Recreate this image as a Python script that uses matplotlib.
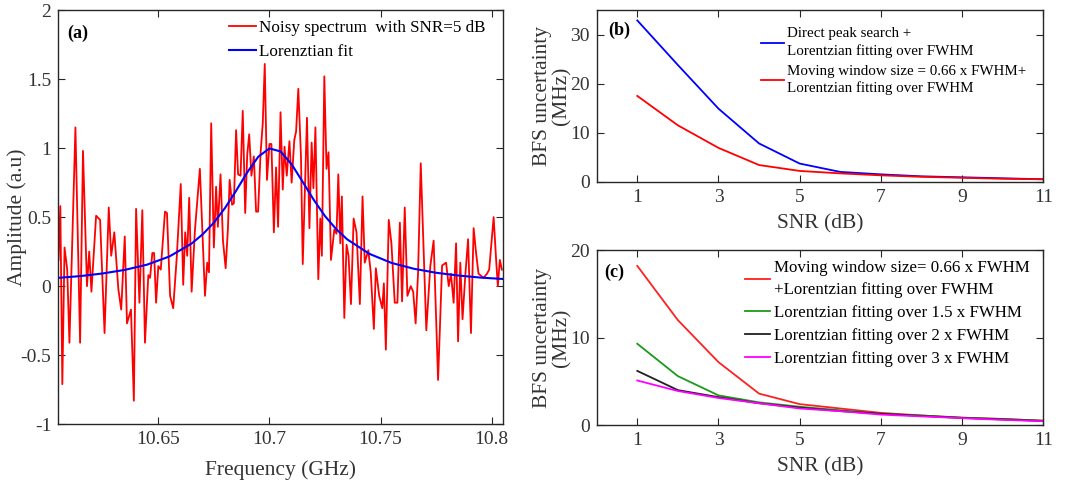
import matplotlib
matplotlib.use("Agg")
import matplotlib.pyplot as plt

plt.rcParams['font.family'] = ['Liberation Serif', 'DejaVu Serif']
plt.rcParams['axes.unicode_minus'] = False

# ---------------- data: panel (a) ----------------
noisy_freq = [10.6051, 10.6059, 10.6068, 10.6078, 10.6090, 10.6100, 10.6127, 10.6148, 10.6161, 10.6179,
              10.6189, 10.6199, 10.6220, 10.6238, 10.6258, 10.6277, 10.6288, 10.6302, 10.6320, 10.6333,
              10.6349, 10.6359, 10.6377, 10.6390, 10.6400, 10.6415, 10.6428, 10.6440, 10.6455, 10.6463,
              10.6473, 10.6481, 10.6490, 10.6500, 10.6511, 10.6530, 10.6539, 10.6553, 10.6567, 10.6583,
              10.6601, 10.6612, 10.6621, 10.6630, 10.6639, 10.6650, 10.6665, 10.6687, 10.6710, 10.6720,
              10.6728, 10.6738, 10.6750, 10.6760, 10.6768, 10.6780, 10.6791, 10.6803, 10.6813, 10.6821,
              10.6832, 10.6840, 10.6850, 10.6859, 10.6870, 10.6880, 10.6891, 10.6900, 10.6909, 10.6919,
              10.6930, 10.6940, 10.6949, 10.6960, 10.6970, 10.6979, 10.6989, 10.7000, 10.7009, 10.7020,
              10.7030, 10.7039, 10.7050, 10.7060, 10.7068, 10.7078, 10.7090, 10.7100, 10.7112, 10.7120,
              10.7130, 10.7142, 10.7150, 10.7169, 10.7180, 10.7190, 10.7198, 10.7207, 10.7220, 10.7229,
              10.7236, 10.7247, 10.7257, 10.7266, 10.7277, 10.7292, 10.7302, 10.7310, 10.7319, 10.7326,
              10.7337, 10.7347, 10.7356, 10.7367, 10.7379, 10.7392, 10.7407, 10.7419, 10.7429, 10.7445,
              10.7456, 10.7470, 10.7479, 10.7494, 10.7508, 10.7515, 10.7524, 10.7537, 10.7549, 10.7564,
              10.7576, 10.7587, 10.7597, 10.7609, 10.7621, 10.7636, 10.7647, 10.7658, 10.7669, 10.7681,
              10.7694, 10.7706, 10.7724, 10.7739, 10.7759, 10.7777, 10.7795, 10.7807, 10.7817, 10.7829,
              10.7840, 10.7849, 10.7859, 10.7869, 10.7882, 10.7894, 10.7907, 10.7919, 10.7930, 10.7941,
              10.7964, 10.7979, 10.7989, 10.8009, 10.8021, 10.8028, 10.8037, 10.8046]
noisy_amp = [0.19, 0.58, -0.71, 0.28, 0.12, -0.41, 1.15, -0.41, 0.98, 0.00,
             0.25, -0.04, 0.51, 0.48, -0.34, 0.57, 0.22, 0.39, -0.02, -0.17,
             0.36, -0.27, -0.17, -0.83, 0.56, -0.12, 0.55, -0.41, 0.08, 0.06,
             0.24, 0.24, -0.12, 0.145, 0.12, 0.54, 0.53, -0.07, -0.16, 0.21,
             0.74, 0.01, 0.39, 0.22, 0.64, -0.04, 0.41, 0.85, -0.07, 0.17,
             0.10, 1.18, 0.28, 0.72, 0.43, 0.81, 0.33, 0.13, 0.41, 0.77,
             0.59, 0.60, 1.13, 0.81, 0.80, 1.27, 0.53, 0.95, 1.10, 0.80,
             0.94, 0.54, 0.54, 0.96, 1.18, 1.61, 0.77, 1.03, 1.03, 0.39,
             0.86, 0.43, 1.26, 0.70, 1.01, 0.80, 1.05, 0.75, 1.06, 1.12,
             1.43, 0.94, 0.16, 1.22, 0.42, 1.04, 0.71, 1.15, 0.05, 0.49,
             0.22, 1.52, 0.85, 0.97, 0.19, 0.41, 0.38, 0.81, 0.31, 0.65,
             -0.23, 0.30, 0.22, -0.13, 0.49, 0.39, -0.13, 0.65, 0.17, 0.26,
             0.10, -0.31, 0.13, -0.07, -0.16, 0.02, -0.46, 0.48, 0.31, -0.12,
             -0.12, 0.46, -0.11, 0.57, -0.07, 0.00, -0.04, -0.27, 0.10, 0.89,
             0.26, -0.32, 0.145, 0.33, -0.68, 0.15, 0.17, 0.00, 0.09, -0.12,
             0.31, -0.40, 0.17, -0.24, 0.09, 0.34, -0.34, 0.42, 0.24, 0.09,
             0.06, 0.09, 0.12, 0.50, 0.17, 0.00, 0.19, 0.12]

fit_freq = [10.605, 10.615, 10.625, 10.635, 10.645, 10.655, 10.665, 10.670, 10.675, 10.680,
            10.685, 10.690, 10.695, 10.700, 10.705, 10.710, 10.715, 10.720, 10.725, 10.730,
            10.735, 10.745, 10.755, 10.765, 10.775, 10.785, 10.795, 10.805]
fit_amp = [0.060, 0.073, 0.092, 0.118, 0.156, 0.215, 0.309, 0.376, 0.460, 0.566,
           0.691, 0.824, 0.938, 0.998, 0.976, 0.883, 0.755, 0.624, 0.508, 0.414,
           0.339, 0.234, 0.168, 0.126, 0.097, 0.077, 0.062, 0.052]

# ---------------- data: panels (b), (c) ----------------
snr = [1, 2, 3, 4, 5, 6, 7, 8, 9, 10, 11]
b_direct = [32.9, 23.8, 14.9, 7.8, 3.7, 2.0, 1.5, 1.1, 0.9, 0.7, 0.5]
b_moving = [17.5, 11.5, 6.9, 3.4, 2.2, 1.7, 1.3, 1.0, 0.8, 0.6, 0.5]

c_moving = [18.2, 12.0, 7.2, 3.6, 2.4, 1.9, 1.4, 1.1, 0.85, 0.7, 0.5]
c_fit15 = [9.3, 5.6, 3.4, 2.6, 2.1, 1.7, 1.3, 1.1, 0.85, 0.7, 0.5]
c_fit2 = [6.2, 4.0, 3.2, 2.5, 2.0, 1.6, 1.3, 1.05, 0.82, 0.65, 0.48]
c_fit3 = [5.1, 3.9, 3.1, 2.5, 1.9, 1.6, 1.2, 1.0, 0.8, 0.6, 0.45]

a_xticks = [10.65, 10.7, 10.75, 10.8]
a_xticklabels = ['10.65', '10.7', '10.75', '10.8']
a_yticks = [-1, -0.5, 0, 0.5, 1, 1.5, 2]
a_yticklabels = ['-1', '-0.5', '0', '0.5', '1', '1.5', '2']
snr_ticks = [1, 3, 5, 7, 9, 11]

# ---------------- figure ----------------
fig = plt.figure(figsize=(10.8, 4.82), dpi=100)
axcol = '#262626'
txtcol = '#333333'
TICK = 14
LAB = 15.5

def style(ax):
    for s in ax.spines.values():
        s.set_color(axcol)
        s.set_linewidth(1.0)
    ax.tick_params(direction='in', top=True, right=True, length=5, width=0.8,
                   colors=axcol, labelsize=TICK, labelcolor=txtcol, pad=5)

axa = fig.add_axes([0.054, 0.120, 0.4115, 0.859])
axa.plot(noisy_freq, noisy_amp, color='#ff0000', lw=1.3, label='Noisy spectrum  with SNR=5 dB')
axa.plot(fit_freq, fit_amp, color='#0000ff', lw=1.5, label='Lorenztian fit')
axa.set_xlim(10.605, 10.805)
axa.set_ylim(-1, 2)
axa.set_xticks(a_xticks)
axa.set_xticklabels(a_xticklabels)
axa.set_yticks(a_yticks)
axa.set_yticklabels(a_yticklabels)
style(axa)
axa.set_xlabel('Frequency (GHz)', fontsize=LAB, color=txtcol)
axa.xaxis.set_label_coords(0.5, -0.088)
axa.set_ylabel('Amplitude (a.u)', fontsize=LAB, color=txtcol)
axa.yaxis.set_label_coords(-0.07, 0.5)
axa.text(0.02, 0.965, '(a)', transform=axa.transAxes, fontsize=13, fontweight='bold', va='top')
axa.legend(loc='upper left', bbox_to_anchor=(0.36, 1.0), frameon=False, fontsize=12.3,
           handlelength=1.6, handletextpad=0.2, labelspacing=0.45, borderaxespad=0.2)

axb = fig.add_axes([0.5525, 0.623, 0.4135, 0.356])
axb.plot(snr, b_direct, color='#0000ff', lw=1.3,
         label='Direct peak search +\nLorentzian fitting over FWHM')
axb.plot(snr, b_moving, color='#ff0000', lw=1.3,
         label='Moving window size = 0.66 x FWHM+\nLorentzian fitting over FWHM')
axb.set_xlim(0, 11)
axb.set_ylim(0, 35)
axb.set_xticks(snr_ticks)
axb.set_yticks([0, 10, 20, 30])
style(axb)
axb.set_xlabel('SNR (dB)', fontsize=LAB, color=txtcol, labelpad=6)
axb.set_ylabel('BFS uncertainty\n(MHz)', fontsize=LAB, color=txtcol, linespacing=1.0)
axb.yaxis.set_label_coords(-0.056, 0.5)
axb.text(0.025, 0.93, '(b)', transform=axb.transAxes, fontsize=13, fontweight='bold', va='top')
legb = axb.legend(loc='upper left', bbox_to_anchor=(0.345, 0.96), frameon=False, fontsize=10.8,
                  handlelength=1.5, handletextpad=0.2, labelspacing=0.45, borderaxespad=0.3)
for t in legb.get_texts():
    t.set_linespacing(1.35)

axc = fig.add_axes([0.5525, 0.118, 0.4135, 0.363])
axc.plot(snr, c_moving, color='#ff2020', lw=1.3,
         label='Moving window size= 0.66 x FWHM\n+Lorentzian fitting over FWHM')
axc.plot(snr, c_fit15, color='#1a9a1a', lw=1.3, label='Lorentzian fitting over 1.5 x FWHM')
axc.plot(snr, c_fit2, color='#202020', lw=1.3, label='Lorentzian fitting over 2 x FWHM')
axc.plot(snr, c_fit3, color='#ff00ff', lw=1.3, label='Lorentzian fitting over 3 x FWHM')
axc.set_xlim(0, 11)
axc.set_ylim(0, 20)
axc.set_xticks(snr_ticks)
axc.set_yticks([0, 10, 20])
style(axc)
axc.set_xlabel('SNR (dB)', fontsize=LAB, color=txtcol, labelpad=6)
axc.set_ylabel('BFS uncertainty\n(MHz)', fontsize=LAB, color=txtcol, linespacing=1.0)
axc.yaxis.set_label_coords(-0.056, 0.5)
axc.text(0.018, 0.92, '(c)', transform=axc.transAxes, fontsize=13, fontweight='bold', va='top')
legc = axc.legend(loc='upper left', bbox_to_anchor=(0.305, 1.01), frameon=False, fontsize=12.2,
                  handlelength=1.5, handletextpad=0.2, labelspacing=0.4, borderaxespad=0.3)
for t in legc.get_texts():
    t.set_linespacing(1.5)

fig.savefig('out.png', dpi=100)
